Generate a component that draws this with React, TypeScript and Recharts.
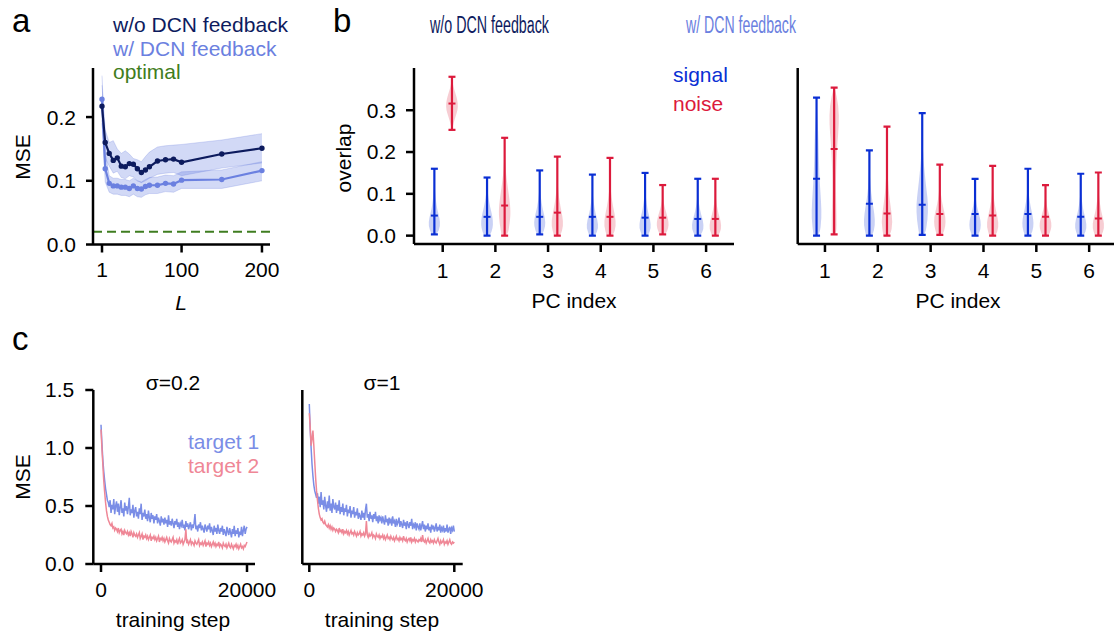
import React from 'react';
import { ComposedChart, LineChart, Line, Area, Bar, XAxis, YAxis, ReferenceLine } from 'recharts';

const W = 1114;
const H = 634;
const FONT = '"Liberation Sans", Arial, Helvetica, sans-serif';

const NAVY = '#0d1b5e';
const LIGHT = '#6b80e0';
const GREEN = '#3f7d20';
const SIG = '#0a2fd4';
const NOISE = '#dc1a3c';
const T1 = '#7a8de6';
const T2 = '#ef8796';

// ---- panel a ----
const lValues = [1, 5, 10, 15, 20, 25, 30, 35, 40, 45, 50, 55, 60, 70, 80, 90, 100, 150, 200];
const mseNoFb = [0.217, 0.16, 0.143, 0.132, 0.136, 0.123, 0.122, 0.127, 0.126, 0.119, 0.113, 0.117, 0.122, 0.131, 0.133, 0.134, 0.129, 0.142, 0.151];
const noFbLo = [0.19, 0.135, 0.123, 0.112, 0.115, 0.105, 0.103, 0.108, 0.106, 0.1, 0.097, 0.1, 0.104, 0.11, 0.112, 0.113, 0.108, 0.12, 0.128];
const noFbHi = [0.25, 0.18, 0.16, 0.163, 0.15, 0.143, 0.147, 0.142, 0.135, 0.133, 0.13, 0.138, 0.145, 0.153, 0.155, 0.156, 0.157, 0.164, 0.174];
const mseFb = [0.228, 0.119, 0.096, 0.092, 0.092, 0.09, 0.09, 0.088, 0.092, 0.088, 0.087, 0.091, 0.093, 0.093, 0.096, 0.095, 0.101, 0.102, 0.116];
const fbLo = [0.195, 0.098, 0.082, 0.079, 0.079, 0.077, 0.077, 0.075, 0.079, 0.075, 0.074, 0.078, 0.08, 0.08, 0.083, 0.082, 0.088, 0.088, 0.1];
const fbHi = [0.265, 0.145, 0.108, 0.104, 0.104, 0.102, 0.102, 0.1, 0.104, 0.1, 0.098, 0.102, 0.105, 0.106, 0.109, 0.108, 0.114, 0.117, 0.13];
const optimalMse = 0.02;

// ---- panel b ----
const pcIdx = [1, 2, 3, 4, 5, 6];
const leftSigMin = [0.003, 0, 0.003, 0, 0, 0];
const leftSigMed = [0.048, 0.045, 0.045, 0.045, 0.043, 0.04];
const leftSigMax = [0.16, 0.139, 0.156, 0.146, 0.15, 0.136];
const leftNoiseMin = [0.253, 0, 0, 0, 0.003, 0];
const leftNoiseMed = [0.316, 0.072, 0.055, 0.045, 0.043, 0.04];
const leftNoiseMax = [0.38, 0.234, 0.189, 0.186, 0.121, 0.136];
const rightSigMin = [0, 0, 0.002, 0, 0, 0];
const rightSigMed = [0.136, 0.076, 0.074, 0.052, 0.052, 0.045];
const rightSigMax = [0.33, 0.204, 0.293, 0.136, 0.16, 0.148];
const rightNoiseMin = [0.003, 0, 0.002, 0, 0, 0];
const rightNoiseMed = [0.207, 0.053, 0.052, 0.048, 0.045, 0.041];
const rightNoiseMax = [0.354, 0.261, 0.17, 0.167, 0.121, 0.151];

// relative density, 9 samples from min to max
const leftSigDens = [
  [0.45, 1, 0.85, 0.5, 0.28, 0.14, 0.06, 0.02, 0],
  [0.5, 0.95, 1, 0.8, 0.5, 0.28, 0.12, 0.04, 0],
  [0.45, 0.95, 0.9, 0.55, 0.3, 0.14, 0.06, 0.02, 0],
  [0.5, 1, 0.85, 0.5, 0.28, 0.12, 0.05, 0.02, 0],
  [0.5, 1, 0.85, 0.5, 0.28, 0.12, 0.05, 0.02, 0],
  [0.5, 1, 0.9, 0.55, 0.3, 0.13, 0.05, 0.02, 0],
];
const leftNoiseDens = [
  [0.05, 0.25, 0.6, 0.95, 1, 0.75, 0.4, 0.12, 0],
  [0.5, 0.85, 1, 0.8, 0.5, 0.25, 0.1, 0.04, 0],
  [0.55, 1, 0.85, 0.5, 0.25, 0.1, 0.04, 0.01, 0],
  [0.55, 1, 0.85, 0.5, 0.25, 0.1, 0.04, 0.01, 0],
  [0.5, 0.95, 1, 0.75, 0.45, 0.2, 0.08, 0.02, 0],
  [0.55, 1, 0.9, 0.55, 0.3, 0.13, 0.05, 0.02, 0],
];
const rightSigDens = [
  [0.5, 0.85, 0.75, 0.55, 0.42, 0.35, 0.28, 0.12, 0],
  [0.55, 0.95, 0.85, 0.55, 0.3, 0.15, 0.06, 0.02, 0],
  [0.5, 0.9, 1, 0.7, 0.42, 0.2, 0.08, 0.03, 0],
  [0.5, 0.95, 0.95, 0.65, 0.35, 0.15, 0.06, 0.02, 0],
  [0.5, 0.95, 0.9, 0.6, 0.32, 0.14, 0.06, 0.02, 0],
  [0.55, 1, 0.85, 0.5, 0.28, 0.12, 0.05, 0.02, 0],
];
const rightNoiseDens = [
  [0.4, 0.4, 0.32, 0.3, 0.38, 0.55, 0.8, 0.75, 0.1],
  [0.6, 0.95, 0.65, 0.35, 0.18, 0.08, 0.04, 0.02, 0],
  [0.5, 0.95, 0.95, 0.6, 0.3, 0.12, 0.05, 0.02, 0],
  [0.55, 1, 0.85, 0.5, 0.25, 0.1, 0.04, 0.01, 0],
  [0.5, 0.95, 1, 0.7, 0.4, 0.18, 0.07, 0.02, 0],
  [0.55, 1, 0.85, 0.5, 0.28, 0.12, 0.05, 0.02, 0],
];

// ---- panel c ----
const steps = [
  0, 125, 250, 375, 500, 625, 750, 875, 1000, 1125,
  1250, 1375, 1500, 1625, 1750, 1875, 2000, 2125, 2250, 2375,
  2500, 2625, 2750, 2875, 3000, 3125, 3250, 3375, 3500, 3625,
  3750, 3875, 4000, 4125, 4250, 4375, 4500, 4625, 4750, 4875,
  5000, 5125, 5250, 5375, 5500, 5625, 5750, 5875, 6000, 6125,
  6250, 6375, 6500, 6625, 6750, 6875, 7000, 7125, 7250, 7375,
  7500, 7625, 7750, 7875, 8000, 8125, 8250, 8375, 8500, 8625,
  8750, 8875, 9000, 9125, 9250, 9375, 9500, 9625, 9750, 9875,
  10000, 10125, 10250, 10375, 10500, 10625, 10750, 10875, 11000, 11125,
  11250, 11375, 11500, 11625, 11750, 11875, 12000, 12125, 12250, 12375,
  12500, 12625, 12750, 12875, 13000, 13125, 13250, 13375, 13500, 13625,
  13750, 13875, 14000, 14125, 14250, 14375, 14500, 14625, 14750, 14875,
  15000, 15125, 15250, 15375, 15500, 15625, 15750, 15875, 16000, 16125,
  16250, 16375, 16500, 16625, 16750, 16875, 17000, 17125, 17250, 17375,
  17500, 17625, 17750, 17875, 18000, 18125, 18250, 18375, 18500, 18625,
  18750, 18875, 19000, 19125, 19250, 19375, 19500, 19625, 19750, 19875,
  20000,
];
const lowT1 = [
  1.2, 1.04, 0.9, 0.8, 0.72, 0.65, 0.6, 0.55, 0.53, 0.49,
  0.55, 0.44, 0.51, 0.47, 0.56, 0.43, 0.5, 0.54, 0.45, 0.52,
  0.42, 0.49, 0.55, 0.44, 0.48, 0.41, 0.53, 0.46, 0.5, 0.43,
  0.49, 0.57, 0.42, 0.47, 0.44, 0.51, 0.4, 0.46, 0.49, 0.41,
  0.45, 0.39, 0.48, 0.43, 0.52, 0.38, 0.44, 0.41, 0.47, 0.39,
  0.43, 0.37, 0.46, 0.4, 0.36, 0.44, 0.39, 0.42, 0.35, 0.41,
  0.38, 0.43, 0.35, 0.4, 0.37, 0.33, 0.41, 0.36, 0.39, 0.34,
  0.4, 0.35, 0.38, 0.32, 0.42, 0.34, 0.37, 0.33, 0.39, 0.35,
  0.31, 0.37, 0.34, 0.39, 0.32, 0.36, 0.3, 0.35, 0.33, 0.38,
  0.31, 0.34, 0.29, 0.37, 0.32, 0.35, 0.3, 0.33, 0.36, 0.29,
  0.34, 0.31, 0.35, 0.43, 0.3, 0.33, 0.28, 0.34, 0.31, 0.36,
  0.29, 0.33, 0.3, 0.27, 0.34, 0.31, 0.28, 0.33, 0.3, 0.35,
  0.27, 0.32, 0.29, 0.25, 0.33, 0.28, 0.31, 0.26, 0.34, 0.29,
  0.26, 0.31, 0.28, 0.33, 0.25, 0.3, 0.27, 0.24, 0.32, 0.28,
  0.25, 0.31, 0.27, 0.23, 0.3, 0.26, 0.33, 0.24, 0.29, 0.26,
  0.31, 0.23, 0.28, 0.25, 0.32, 0.24, 0.29, 0.33, 0.26, 0.3,
  0.32,
];
const lowT2 = [
  1.16, 1.0, 0.86, 0.72, 0.62, 0.53, 0.46, 0.41, 0.38, 0.36,
  0.34, 0.33, 0.35, 0.31, 0.32, 0.29, 0.31, 0.3, 0.28, 0.31,
  0.27, 0.29, 0.3, 0.26, 0.28, 0.25, 0.29, 0.27, 0.26, 0.28,
  0.25, 0.27, 0.24, 0.28, 0.26, 0.23, 0.27, 0.25, 0.24, 0.26,
  0.23, 0.25, 0.27, 0.22, 0.24, 0.26, 0.21, 0.24, 0.23, 0.25,
  0.22, 0.24, 0.21, 0.23, 0.25, 0.2, 0.23, 0.22, 0.24, 0.21,
  0.23, 0.2, 0.22, 0.24, 0.19, 0.22, 0.21, 0.23, 0.2, 0.22,
  0.19, 0.21, 0.23, 0.2, 0.18, 0.22, 0.2, 0.19, 0.21, 0.23,
  0.18, 0.2, 0.19, 0.21, 0.17, 0.2, 0.22, 0.18, 0.19, 0.21,
  0.17, 0.19, 0.21, 0.3, 0.18, 0.2, 0.17, 0.19, 0.21, 0.17,
  0.19, 0.18, 0.16, 0.2, 0.18, 0.17, 0.19, 0.21, 0.16, 0.18,
  0.17, 0.19, 0.16, 0.18, 0.2, 0.15, 0.18, 0.17, 0.19, 0.16,
  0.18, 0.15, 0.17, 0.19, 0.16, 0.18, 0.15, 0.17, 0.16, 0.19,
  0.15, 0.17, 0.16, 0.14, 0.18, 0.16, 0.15, 0.17, 0.14, 0.16,
  0.18, 0.15, 0.14, 0.17, 0.15, 0.13, 0.16, 0.15, 0.17, 0.14,
  0.16, 0.13, 0.15, 0.17, 0.14, 0.15, 0.13, 0.16, 0.15, 0.17,
  0.19,
];
const highT1 = [
  1.38, 1.16, 1.0, 0.86, 0.76, 0.68, 0.63, 0.6, 0.57, 0.61,
  0.52, 0.58, 0.49, 0.62, 0.51, 0.55, 0.47, 0.58, 0.5, 0.45,
  0.54, 0.48, 0.59, 0.46, 0.52, 0.44, 0.56, 0.49, 0.47, 0.53,
  0.44, 0.51, 0.46, 0.55, 0.43, 0.49, 0.45, 0.52, 0.42, 0.48,
  0.45, 0.51, 0.41, 0.47, 0.44, 0.5, 0.4, 0.46, 0.43, 0.49,
  0.4, 0.45, 0.42, 0.48, 0.39, 0.44, 0.41, 0.38, 0.46, 0.4,
  0.44, 0.38, 0.47, 0.52, 0.4, 0.43, 0.37, 0.45, 0.39, 0.42,
  0.36, 0.43, 0.39, 0.45, 0.37, 0.41, 0.35, 0.42, 0.38, 0.4,
  0.35, 0.41, 0.37, 0.34, 0.42, 0.36, 0.39, 0.33, 0.4, 0.36,
  0.38, 0.33, 0.41, 0.35, 0.37, 0.32, 0.39, 0.34, 0.36, 0.4,
  0.32, 0.37, 0.34, 0.31, 0.38, 0.33, 0.36, 0.3, 0.37, 0.34,
  0.31, 0.36, 0.33, 0.39, 0.3, 0.34, 0.32, 0.36, 0.29, 0.35,
  0.32, 0.3, 0.35, 0.29, 0.33, 0.37, 0.3, 0.34, 0.28, 0.33,
  0.3, 0.35, 0.29, 0.32, 0.27, 0.34, 0.3, 0.33, 0.28, 0.31,
  0.35, 0.28, 0.32, 0.29, 0.34, 0.27, 0.31, 0.29, 0.33, 0.27,
  0.31, 0.28, 0.34, 0.27, 0.3, 0.32, 0.26, 0.31, 0.29, 0.33,
  0.28,
];
const highT2 = [
  1.3, 1.18, 1.02, 1.08, 1.15, 1.02, 0.88, 0.74, 0.63, 0.55,
  0.48, 0.43, 0.4, 0.38, 0.39, 0.36, 0.35, 0.37, 0.34, 0.33,
  0.32, 0.34, 0.31, 0.33, 0.3, 0.32, 0.29, 0.31, 0.3, 0.28,
  0.3, 0.29, 0.27, 0.31, 0.28, 0.29, 0.27, 0.3, 0.26, 0.28,
  0.27, 0.29, 0.26, 0.28, 0.25, 0.27, 0.29, 0.26, 0.27, 0.25,
  0.28, 0.26, 0.24, 0.27, 0.25, 0.26, 0.28, 0.24, 0.26, 0.25,
  0.27, 0.24, 0.26, 0.37, 0.25, 0.23, 0.26, 0.24, 0.25, 0.27,
  0.23, 0.25, 0.24, 0.22, 0.26, 0.24, 0.23, 0.25, 0.22, 0.24,
  0.23, 0.25, 0.22, 0.24, 0.21, 0.23, 0.25, 0.22, 0.23, 0.21,
  0.24, 0.22, 0.21, 0.23, 0.2, 0.22, 0.24, 0.21, 0.22, 0.2,
  0.23, 0.21, 0.22, 0.2, 0.24, 0.21, 0.2, 0.22, 0.19, 0.21,
  0.22, 0.2, 0.23, 0.19, 0.21, 0.2, 0.22, 0.19, 0.21, 0.2,
  0.19, 0.21, 0.2, 0.22, 0.19, 0.25, 0.2, 0.19, 0.21, 0.18,
  0.2, 0.22, 0.19, 0.18, 0.21, 0.19, 0.2, 0.18, 0.21, 0.19,
  0.18, 0.2, 0.22, 0.19, 0.17, 0.2, 0.18, 0.19, 0.21, 0.17,
  0.19, 0.18, 0.2, 0.17, 0.19, 0.21, 0.18, 0.17, 0.19, 0.18,
  0.19,
];

const aData = lValues.map((L, i) => ({
  L,
  noFb: mseNoFb[i],
  noFbBand: [noFbLo[i], noFbHi[i]],
  fb: mseFb[i],
  fbBand: [fbLo[i], fbHi[i]],
}));

const buildViolins = (sMin: number[], sMed: number[], sMax: number[], sDens: number[][], nMin: number[], nMed: number[], nMax: number[], nDens: number[][]) =>
  pcIdx.map((pc, i) => ({
    pc,
    sMin: sMin[i], sMed: sMed[i], sMax: sMax[i], sDens: sDens[i],
    nMin: nMin[i], nMed: nMed[i], nMax: nMax[i], nDens: nDens[i],
  }));

const bLeftData = buildViolins(leftSigMin, leftSigMed, leftSigMax, leftSigDens, leftNoiseMin, leftNoiseMed, leftNoiseMax, leftNoiseDens);
const bRightData = buildViolins(rightSigMin, rightSigMed, rightSigMax, rightSigDens, rightNoiseMin, rightNoiseMed, rightNoiseMax, rightNoiseDens);

const cLowData = steps.map((s, i) => ({ step: s, t1: lowT1[i], t2: lowT2[i] }));
const cHighData = steps.map((s, i) => ({ step: s, t1: highT1[i], t2: highT2[i] }));

// ---- helpers ----
const FS = 21;
const tickStyle = { fontSize: FS, fill: '#000', fontFamily: FONT };
const spine = { stroke: '#000', strokeWidth: 2.5 };
const fmt1 = (v: number) => v.toFixed(1);

const frame = (left: number, top: number, right: number, bottom: number) => ({
  margin: { left: 0, top, right: W - right, bottom: 0 },
  yWidth: left,
  xHeight: H - bottom,
});

const smoothPath = (pts: number[][]) => {
  let d = `M${pts[0][0]},${pts[0][1]}`;
  for (let i = 1; i < pts.length - 1; i++) {
    const mx = (pts[i][0] + pts[i + 1][0]) / 2;
    const my = (pts[i][1] + pts[i + 1][1]) / 2;
    d += ` Q${pts[i][0]},${pts[i][1]} ${mx},${my}`;
  }
  const last = pts[pts.length - 1];
  return d + ` L${last[0]},${last[1]} Z`;
};

const makeViolin = (kind: 's' | 'n', color: string, fill: string) => (props: any) => {
  const { x, y, width, height, payload } = props;
  if (!payload || height == null) return <g />;
  const lo = payload[kind + 'Min'];
  const hi = payload[kind + 'Max'];
  const med = payload[kind + 'Med'];
  const dens: number[] = payload[kind + 'Dens'];
  const top = Math.min(y, y + height);
  const bot = Math.max(y, y + height);
  const h = bot - top;
  const cx = x + width / 2;
  const medY = top + (h * (hi - med)) / (hi - lo);
  const maxHalf = 6;
  const n = dens.length;
  const right = dens.map((d, i) => [cx + d * maxHalf, bot - (i / (n - 1)) * h]);
  const left = dens.map((d, i) => [cx - d * maxHalf, bot - (i / (n - 1)) * h]).reverse();
  const cap = 3.5;
  return (
    <g>
      <path d={smoothPath([[cx, bot], ...right, ...left])} fill={fill} stroke="none" />
      <line x1={cx} x2={cx} y1={top} y2={bot} stroke={color} strokeWidth={2.2} />
      <line x1={cx - cap} x2={cx + cap} y1={top} y2={top} stroke={color} strokeWidth={2.2} />
      <line x1={cx - cap} x2={cx + cap} y1={bot} y2={bot} stroke={color} strokeWidth={2.2} />
      <line x1={cx - cap} x2={cx + cap} y1={medY} y2={medY} stroke={color} strokeWidth={2} />
    </g>
  );
};

const sigShape = makeViolin('s', SIG, 'rgba(60,90,220,0.28)');
const noiseShape = makeViolin('n', NOISE, 'rgba(230,90,110,0.3)');

const layer: React.CSSProperties = { position: 'absolute', left: 0, top: 0, width: W, height: H };

// ---- panels ----
const PanelA = () => {
  const f = frame(93, 68, 270, 244.5);
  return (
    <div style={layer}>
      <ComposedChart width={W} height={H} data={aData} margin={f.margin}>
        <XAxis dataKey="L" type="number" scale="linear" domain={[-10.2, 210]} allowDataOverflow ticks={[1, 100, 200]}
          height={f.xHeight} tick={tickStyle} axisLine={spine} tickLine={spine} tickSize={8} tickMargin={10} interval={0} />
        <YAxis type="number" domain={[0, 0.277]} allowDataOverflow ticks={[0, 0.1, 0.2]} tickFormatter={fmt1}
          width={f.yWidth} tick={tickStyle} axisLine={spine} tickLine={spine} tickSize={7} tickMargin={10} interval={0} />
        <Area dataKey="noFbBand" type="linear" fill={LIGHT} fillOpacity={0.3} stroke={LIGHT} strokeOpacity={0.25} strokeWidth={1} isAnimationActive={false} />
        <Area dataKey="fbBand" type="linear" fill={LIGHT} fillOpacity={0.3} stroke={LIGHT} strokeOpacity={0.25} strokeWidth={1} isAnimationActive={false} />
        <ReferenceLine y={optimalMse} stroke={GREEN} strokeWidth={2} strokeDasharray="9 5" />
        <Line dataKey="fb" type="linear" stroke={LIGHT} strokeWidth={2.2} dot={{ r: 1.6, fill: LIGHT, stroke: LIGHT }} isAnimationActive={false} />
        <Line dataKey="noFb" type="linear" stroke={NAVY} strokeWidth={2.2} dot={{ r: 1.6, fill: NAVY, stroke: NAVY }} isAnimationActive={false} />
      </ComposedChart>
    </div>
  );
};

const ViolinPanel = ({ data, left, right, domain, labels }: any) => {
  const f = frame(left, 68, right, 244);
  return (
    <div style={layer}>
      <ComposedChart width={W} height={H} data={data} margin={f.margin} barGap={5.6}>
        <XAxis dataKey="pc" type="number" scale="linear" domain={domain} allowDataOverflow ticks={pcIdx}
          height={f.xHeight} tick={tickStyle} axisLine={spine} tickLine={spine} tickSize={8} tickMargin={11} interval={0} />
        <YAxis type="number" domain={[-0.02, 0.401]} allowDataOverflow ticks={[0, 0.1, 0.2, 0.3]} tickFormatter={fmt1}
          width={f.yWidth} tick={labels ? tickStyle : false} axisLine={spine} tickLine={spine} tickSize={8} tickMargin={10} interval={0} />
        <Bar dataKey={(d: any) => [d.sMin, d.sMax]} barSize={12} shape={sigShape} isAnimationActive={false} />
        <Bar dataKey={(d: any) => [d.nMin, d.nMax]} barSize={12} shape={noiseShape} isAnimationActive={false} />
      </ComposedChart>
    </div>
  );
};

const TrainPanel = ({ data, left, right, domain, labels }: any) => {
  const f = frame(left, 390, right, 564);
  return (
    <div style={layer}>
      <LineChart width={W} height={H} data={data} margin={f.margin}>
        <XAxis dataKey="step" type="number" scale="linear" domain={domain} allowDataOverflow ticks={[0, 20000]}
          height={f.xHeight} tick={tickStyle} axisLine={spine} tickLine={spine} tickSize={8} tickMargin={10} interval={0} />
        <YAxis type="number" domain={[0, 1.5]} allowDataOverflow ticks={[0, 0.5, 1, 1.5]} tickFormatter={fmt1}
          width={f.yWidth} tick={labels ? tickStyle : false} axisLine={spine} tickLine={spine} tickSize={8} tickMargin={11} interval={0} />
        <Line dataKey="t1" type="linear" stroke={T1} strokeWidth={1.5} dot={false} isAnimationActive={false} />
        <Line dataKey="t2" type="linear" stroke={T2} strokeWidth={1.5} dot={false} isAnimationActive={false} />
      </LineChart>
    </div>
  );
};

const T = ({ x, y, children, size = FS, fill = '#000', anchor = 'start', rotate, italic, len }: any) => (
  <text
    x={rotate ? 0 : x}
    y={rotate ? 0 : y}
    transform={rotate ? `translate(${x},${y}) rotate(-90)` : undefined}
    fontSize={size}
    fill={fill}
    textAnchor={anchor}
    fontStyle={italic ? 'italic' : undefined}
    textLength={len}
    lengthAdjust={len ? 'spacingAndGlyphs' : undefined}
  >
    {children}
  </text>
);

const Labels = () => (
  <svg width={W} height={H} style={{ ...layer, pointerEvents: 'none' }} fontFamily={FONT}>
    <T x={12} y={32} size={33}>a</T>
    <T x={333} y={32} size={33}>b</T>
    <T x={12} y={350} size={33}>c</T>

    <T x={113} y={32} fill={NAVY}>w/o DCN feedback</T>
    <T x={113} y={56} fill={LIGHT}>w/ DCN feedback</T>
    <T x={113} y={79} fill={GREEN}>optimal</T>
    <T x={30} y={157} rotate anchor="middle">MSE</T>
    <T x={181} y={310} anchor="middle" italic>L</T>

    <T x={430} y={33} fill={NAVY} size={23} len={119}>w/o DCN feedback</T>
    <T x={686} y={33} fill={LIGHT} size={23} len={110}>w/ DCN feedback</T>
    <T x={673} y={82} fill={SIG}>signal</T>
    <T x={673} y={111} fill={NOISE}>noise</T>
    <T x={351} y={158} rotate anchor="middle">overlap</T>
    <T x={574} y={308} anchor="middle">PC index</T>
    <T x={958} y={308} anchor="middle">PC index</T>

    <T x={173} y={390} anchor="middle">σ=0.2</T>
    <T x={382} y={390} anchor="middle">σ=1</T>
    <T x={188} y={449} fill={T1}>target 1</T>
    <T x={188} y={473} fill={T2}>target 2</T>
    <T x={30} y={477} rotate anchor="middle">MSE</T>
    <T x={173} y={627} anchor="middle">training step</T>
    <T x={382} y={627} anchor="middle">training step</T>
  </svg>
);

export default function App() {
  return (
    <div style={{ position: 'absolute', left: 0, top: 0, width: W, height: H, background: '#fff', fontFamily: FONT, overflow: 'hidden' }}>
      <PanelA />
      <ViolinPanel data={bLeftData} left={414} right={734} domain={[0.455, 6.53]} labels />
      <ViolinPanel data={bRightData} left={797.7} right={1114} domain={[0.484, 6.47]} labels={false} />
      <TrainPanel data={cLowData} left={93.3} right={255} domain={[-1055, 21096]} labels />
      <TrainPanel data={cHighData} left={302.3} right={462.7} domain={[-966, 21159]} labels={false} />
      <Labels />
    </div>
  );
}
